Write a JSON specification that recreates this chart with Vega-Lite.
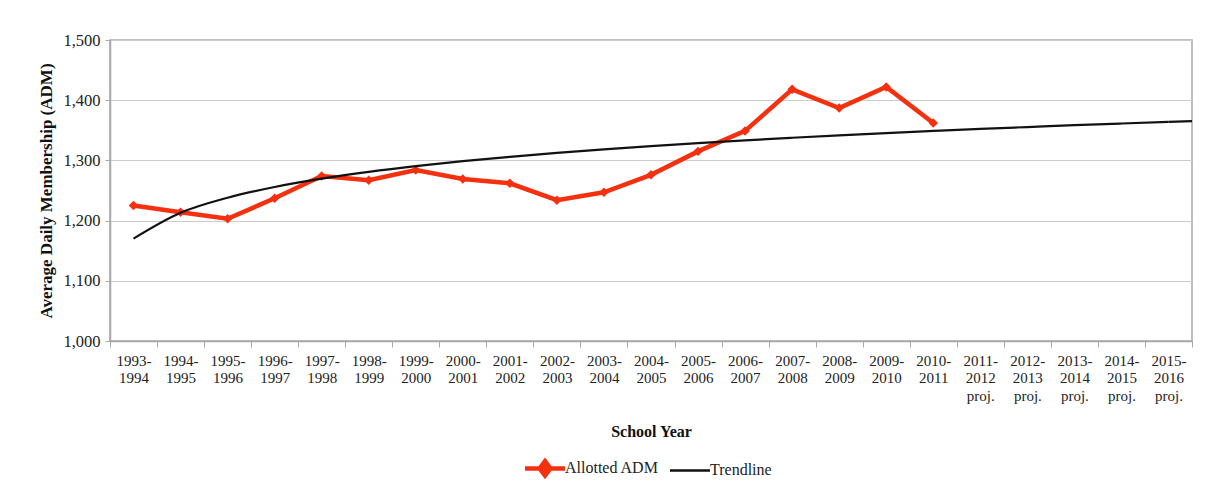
{
  "$schema": "https://vega.github.io/schema/vega-lite/v6.json",
  "width": 1082,
  "height": 301,
  "autosize": {"type": "none"},
  "padding": {"left": 110, "top": 40, "right": 20, "bottom": 147},
  "background": "white",
  "config": {
    "font": "Liberation Serif",
    "view": {"stroke": "#a8a8a8", "strokeWidth": 1.5},
    "axis": {"labelFont": "Liberation Serif", "titleFont": "Liberation Serif", "labelColor": "#222222", "titleColor": "#111111"},
    "legend": {"labelFont": "Liberation Serif", "labelColor": "#222222"}
  },
  "data": {"values": [
    {"year": "1993-1994", "series": "Allotted ADM", "adm": 1225},
    {"year": "1994-1995", "series": "Allotted ADM", "adm": 1214},
    {"year": "1995-1996", "series": "Allotted ADM", "adm": 1203},
    {"year": "1996-1997", "series": "Allotted ADM", "adm": 1237},
    {"year": "1997-1998", "series": "Allotted ADM", "adm": 1274},
    {"year": "1998-1999", "series": "Allotted ADM", "adm": 1267},
    {"year": "1999-2000", "series": "Allotted ADM", "adm": 1284},
    {"year": "2000-2001", "series": "Allotted ADM", "adm": 1269},
    {"year": "2001-2002", "series": "Allotted ADM", "adm": 1262},
    {"year": "2002-2003", "series": "Allotted ADM", "adm": 1234},
    {"year": "2003-2004", "series": "Allotted ADM", "adm": 1247},
    {"year": "2004-2005", "series": "Allotted ADM", "adm": 1276},
    {"year": "2005-2006", "series": "Allotted ADM", "adm": 1315},
    {"year": "2006-2007", "series": "Allotted ADM", "adm": 1349},
    {"year": "2007-2008", "series": "Allotted ADM", "adm": 1418},
    {"year": "2008-2009", "series": "Allotted ADM", "adm": 1387},
    {"year": "2009-2010", "series": "Allotted ADM", "adm": 1422},
    {"year": "2010-2011", "series": "Allotted ADM", "adm": 1362},
    {"year": "1993-1994", "series": "Trendline", "adm": 1170.0},
    {"year": "1994-1995", "series": "Trendline", "adm": 1212.9},
    {"year": "1995-1996", "series": "Trendline", "adm": 1238.0},
    {"year": "1996-1997", "series": "Trendline", "adm": 1255.8},
    {"year": "1997-1998", "series": "Trendline", "adm": 1269.6},
    {"year": "1998-1999", "series": "Trendline", "adm": 1280.9},
    {"year": "1999-2000", "series": "Trendline", "adm": 1290.5},
    {"year": "2000-2001", "series": "Trendline", "adm": 1298.7},
    {"year": "2001-2002", "series": "Trendline", "adm": 1306.0},
    {"year": "2002-2003", "series": "Trendline", "adm": 1312.5},
    {"year": "2003-2004", "series": "Trendline", "adm": 1318.4},
    {"year": "2004-2005", "series": "Trendline", "adm": 1323.8},
    {"year": "2005-2006", "series": "Trendline", "adm": 1328.8},
    {"year": "2006-2007", "series": "Trendline", "adm": 1333.4},
    {"year": "2007-2008", "series": "Trendline", "adm": 1337.6},
    {"year": "2008-2009", "series": "Trendline", "adm": 1341.6},
    {"year": "2009-2010", "series": "Trendline", "adm": 1345.4},
    {"year": "2010-2011", "series": "Trendline", "adm": 1348.9},
    {"year": "2011-2012 proj.", "series": "Trendline", "adm": 1352.3},
    {"year": "2012-2013 proj.", "series": "Trendline", "adm": 1355.4},
    {"year": "2013-2014 proj.", "series": "Trendline", "adm": 1358.5},
    {"year": "2014-2015 proj.", "series": "Trendline", "adm": 1361.3},
    {"year": "2015-2016 proj.", "series": "Trendline", "adm": 1364.1, "adm_end": 1365.4}
  ]},
  "encoding": {
    "x": {
      "field": "year", "type": "ordinal", "bandPosition": 0.5,
      "scale": {"type": "band", "paddingInner": 0, "paddingOuter": 0,
        "domain": ["1993-1994","1994-1995","1995-1996","1996-1997","1997-1998","1998-1999","1999-2000","2000-2001","2001-2002","2002-2003","2003-2004","2004-2005","2005-2006","2006-2007","2007-2008","2008-2009","2009-2010","2010-2011","2011-2012 proj.","2012-2013 proj.","2013-2014 proj.","2014-2015 proj.","2015-2016 proj."]},
      "axis": {
        "title": "School Year", "titleFontSize": 16, "titleFontWeight": "bold", "titlePadding": 20,
        "labelAngle": 0, "labelFontSize": 15, "labelLineHeight": 17.5, "labelPadding": 6,
        "labelExpr": "split(replace(replace(datum.label, '-', '-|'), ' ', '|'), '|')",
        "tickBand": "extent", "tickSize": 6, "tickColor": "#a8a8a8", "domainColor": "#a8a8a8", "domainWidth": 1.5, "grid": false
      }
    },
    "y": {
      "field": "adm", "type": "quantitative",
      "scale": {"domain": [1000, 1500], "nice": false, "zero": false},
      "axis": {
        "title": "Average Daily Membership (ADM)", "titleFontSize": 17, "titleFontWeight": "bold", "titlePadding": 7,
        "values": [1000, 1100, 1200, 1300, 1400, 1500], "format": ",.0f",
        "labelFontSize": 16.5, "labelPadding": 5, "tickSize": 5, "tickColor": "#a8a8a8",
        "domainColor": "#a8a8a8", "domainWidth": 1.5, "grid": true, "gridColor": "#cccccc", "gridWidth": 1.2
      }
    },
    "color": {
      "field": "series", "type": "nominal",
      "scale": {"domain": ["Allotted ADM", "Trendline"], "range": ["#f4300f", "#111111"]},
      "legend": {
        "title": null, "orient": "none", "direction": "horizontal", "legendX": 427, "legendY": 420,
        "labelFontSize": 16, "symbolSize": 1600, "labelOffset": 12, "columnPadding": 6,
        "encode": {"symbols": {"update": {
          "shape": {"signal": "datum.value === 'Trendline' ? 'M-1,0H1M0,-0.36L0,-0.36M0,0.36L0,0.36' : 'M-1,0H1M0,-0.36L0.27,0L0,0.36L-0.27,0Z'"},
          "size": {"value": 1600},
          "fill": {"signal": "datum.value === 'Trendline' ? 'transparent' : '#f4300f'"},
          "stroke": {"signal": "datum.value === 'Trendline' ? '#111111' : '#f4300f'"},
          "strokeWidth": {"signal": "datum.value === 'Trendline' ? 2.5 : 4.5"},
          "opacity": {"value": 1}
        }}}
      }
    }
  },
  "layer": [
    {
      "transform": [{"filter": "datum.series === 'Allotted ADM'"}],
      "mark": {"type": "line", "strokeWidth": 4.5, "strokeJoin": "miter"}
    },
    {
      "transform": [{"filter": "datum.series === 'Allotted ADM'"}],
      "mark": {"type": "point", "shape": "diamond", "filled": true, "size": 90, "opacity": 1}
    },
    {
      "transform": [{"filter": "datum.series === 'Trendline'"}],
      "mark": {"type": "line", "interpolate": "monotone", "strokeWidth": 2.2}
    },
    {
      "transform": [{"filter": "isValid(datum.adm_end)"}],
      "mark": {"type": "rule", "strokeWidth": 2.2, "color": "#111111"},
      "encoding": {
        "x2": {"field": "year", "bandPosition": 1},
        "y2": {"field": "adm_end"}
      }
    }
  ]
}
